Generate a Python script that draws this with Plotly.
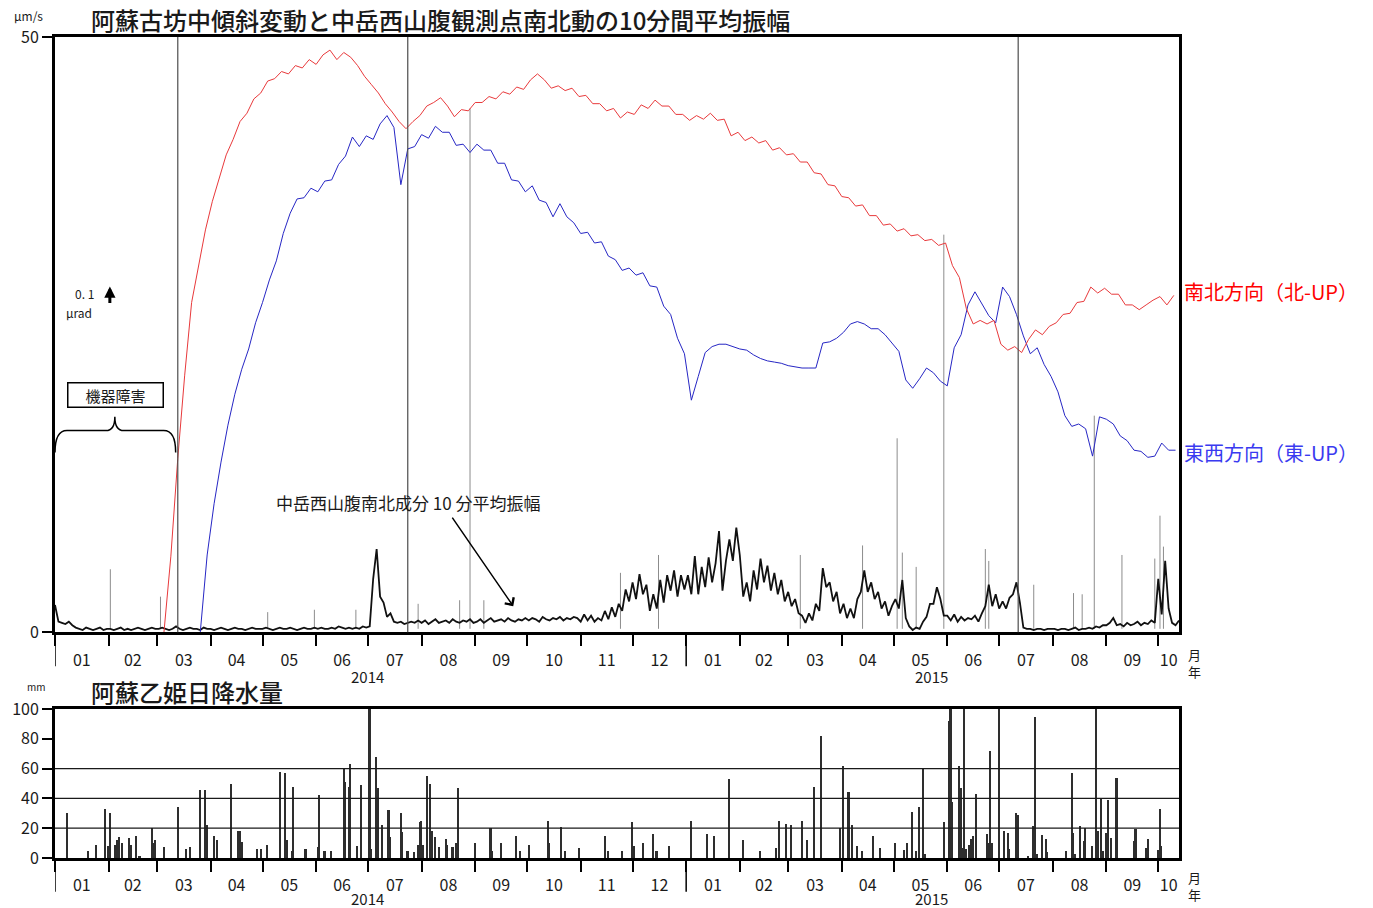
import pandas as pd
import plotly.graph_objects as go

# ---------------------------------------------------------------------------
# Data
# ---------------------------------------------------------------------------
# 10-minute mean amplitude, Nakadake west-flank station, N-S component (µm/s)
# sampled every 2 days from amp_start
amp_start = "2014-01-01"
amp_values = (
    [2.3, 0.9, 0.8, 0.7, 0.9, 0.6, 0.4, 0.3, 0.2, 0.4, 0.3, 0.2, 0.3, 0.4, 0.2, 0.3]        # 2014-01
    + [0.3, 0.2, 0.3, 0.4, 0.2, 0.3, 0.2, 0.3, 0.4, 0.3, 0.2, 0.3, 0.4, 0.3]               # 2014-02
    + [0.3, 0.4, 0.3, 0.2, 0.3, 0.5, 0.3, 0.2, 0.3, 0.4, 0.3, 0.3, 0.2, 0.4, 0.3]          # 2014-03
    + [0.3, 0.2, 0.3, 0.4, 0.3, 0.2, 0.3, 0.4, 0.3, 0.3, 0.2, 0.3, 0.4, 0.3, 0.3]          # 2014-04
    + [0.3, 0.4, 0.3, 0.2, 0.3, 0.4, 0.3, 0.3, 0.4, 0.3, 0.2, 0.3, 0.4, 0.3, 0.3, 0.4]     # 2014-05
    + [0.3, 0.4, 0.3, 0.3, 0.4, 0.3, 0.5, 0.4, 0.3, 0.4, 0.3, 0.4, 0.3, 0.5, 0.4]          # 2014-06
    + [0.5, 4.5, 7.0, 3.0, 2.5, 1.3, 1.6, 0.9, 0.8, 0.9, 0.7, 0.8, 0.9, 0.8, 1.0]          # 2014-07
    + [0.8, 1.0, 0.7, 0.9, 1.1, 0.8, 0.9, 1.0, 0.8, 1.1, 0.9, 0.8, 1.0, 0.9, 1.1, 0.8]     # 2014-08
    + [0.9, 1.1, 0.8, 1.0, 1.2, 0.9, 1.0, 1.1, 0.9, 1.2, 1.0, 0.9, 1.1, 1.0, 1.2]          # 2014-09
    + [1.0, 1.2, 1.1, 0.9, 1.3, 1.1, 1.0, 1.2, 1.1, 1.3, 1.0, 1.2, 1.1, 1.3, 1.2]          # 2014-10
    + [0.9, 1.5, 1.0, 1.4, 0.9, 1.2, 1.0, 1.8, 1.1, 2.1, 1.3, 2.4, 1.8, 3.6, 2.6]          # 2014-11
    + [4.2, 2.8, 4.9, 3.2, 4.0, 1.8, 3.2, 2.0, 4.4, 2.5, 4.8, 3.5, 5.2, 3.0, 4.8, 3.6]     # 2014-12
    + [4.8, 3.2, 6.4, 3.2, 5.5, 3.8, 6.3, 4.2, 5.8, 8.5, 3.5, 6.0, 7.8, 6.0, 8.8]          # 2015-01
    + [6.5, 3.0, 4.2, 2.6, 5.2, 3.6, 6.2, 4.2, 5.6, 3.5, 5.0, 3.2, 4.4, 2.6]               # 2015-02
    + [3.4, 2.2, 2.8, 1.6, 1.4, 0.8, 1.6, 1.0, 2.4, 1.8, 5.4, 3.8, 4.2, 2.6, 3.4, 1.6]     # 2015-03
    + [2.4, 1.2, 2.0, 1.2, 2.8, 3.4, 5.2, 3.4, 4.2, 2.8, 3.4, 2.0, 2.6, 1.4, 2.2]          # 2015-04
    + [2.8, 2.0, 4.4, 1.2, 0.5, 0.2, 0.4, 0.3, 0.9, 1.3, 2.4, 2.4, 3.8, 2.8, 1.4]          # 2015-05
    + [1.4, 1.0, 1.5, 0.9, 1.3, 1.0, 1.2, 1.1, 1.4, 0.9, 1.6, 2.2, 4.0, 2.2, 3.2]          # 2015-06
    + [2.0, 2.6, 2.0, 2.9, 3.2, 4.2, 2.5, 0.4, 0.3, 0.3, 0.2, 0.3, 0.3, 0.2, 0.3, 0.3]     # 2015-07
    + [0.3, 0.2, 0.3, 0.3, 0.2, 0.3, 0.4, 0.2, 0.3, 0.3, 0.4, 0.3, 0.5, 0.4, 0.6]          # 2015-08
    + [0.6, 0.8, 1.2, 0.6, 0.7, 0.5, 0.8, 0.6, 0.7, 0.9, 0.6, 0.8, 0.7, 1.0, 0.8]          # 2015-09
    + [4.5, 1.5, 6.0, 2.0, 0.8, 0.6, 1.0]                                                 # 2015-10
)

# short bursts in the amplitude record (µm/s)
amp_spike_dates = [
    "2014-02-02", "2014-03-03", "2014-05-04", "2014-05-31", "2014-06-24",
    "2014-07-30", "2014-08-23", "2014-08-29", "2014-09-06", "2014-11-24",
    "2014-12-16", "2015-03-08", "2015-04-13", "2015-05-03", "2015-05-06",
    "2015-05-14", "2015-05-30", "2015-06-23", "2015-06-25", "2015-07-21",
    "2015-08-13", "2015-08-18", "2015-08-25", "2015-09-10", "2015-09-29",
    "2015-10-02", "2015-10-04",
]
amp_spike_values = [
    5.3, 3.0, 1.7, 1.9, 1.9,
    2.4, 2.7, 44.0, 2.7, 5.0,
    6.5, 6.5, 7.3, 16.3, 6.7,
    5.5, 33.4, 7.0, 6.0, 4.0,
    3.3, 3.2, 18.2, 6.5, 6.2,
    9.8, 7.2,
]

# Furubochu tilt, plotted offsets (every 4 days)
tilt_step_days = 4
tilt_ns_start = "2014-03-05"   # N-S component (north up)
tilt_ns = [
    0.0, 6.4, 14.6, 21.6, 27.7, 30.9, 33.8, 36.2, 38.2, 40.1,
    41.4, 42.9, 43.6, 44.8, 45.3, 46.3, 46.5, 47.1, 46.9, 47.6,
    47.4, 48.1, 47.7, 48.5, 48.9, 48.1, 48.7, 48.3, 47.6, 46.7,
    46.0, 45.3, 44.4, 43.7, 42.9, 42.3, 42.9, 43.4, 44.2, 44.5,
    44.9, 44.2, 43.3, 43.9, 43.8, 44.5, 44.5, 45.0, 44.8, 45.4,
    45.2, 45.8, 45.6, 46.4, 46.9, 46.4, 45.7, 45.9, 45.5, 45.7,
    45.0, 45.1, 44.4, 44.4, 43.8, 44.0, 43.2, 43.7, 43.5, 44.3,
    44.0, 44.7, 44.2, 44.2, 43.5, 43.5, 43.0, 43.4, 43.1, 43.6,
    43.0, 43.1, 41.7, 42.0, 41.3, 41.6, 41.1, 41.3, 40.5, 40.7,
    40.1, 40.2, 39.5, 39.5, 38.6, 38.5, 37.6, 37.5, 36.6, 36.5,
    35.8, 35.9, 35.0, 35.0, 34.2, 34.3, 33.7, 33.9, 33.3, 33.4,
    32.9, 33.0, 32.5, 32.7, 30.8, 29.8, 27.2, 25.9, 26.2, 25.9,
    26.2, 24.2, 23.7, 24.0, 23.5, 24.6, 25.4, 25.0, 25.7, 26.0,
    26.7, 26.8, 27.7, 27.8, 29.0, 28.5, 28.9, 28.4, 28.4, 27.5,
    27.5, 27.1, 27.5, 27.9, 28.2, 27.5, 28.3,
]
tilt_ew_start = "2014-03-26"   # E-W component (east up)
tilt_ew = [
    0.0, 6.5, 10.8, 14.3, 17.4, 20.0, 22.1, 23.8, 26.0, 27.7,
    29.6, 31.2, 33.5, 35.2, 36.4, 36.5, 37.3, 37.0, 37.9, 38.0,
    39.3, 40.0, 41.6, 40.8, 41.7, 41.4, 42.7, 43.4, 42.4, 37.6,
    40.6, 40.8, 41.8, 41.5, 42.5, 42.0, 42.0, 40.9, 41.0, 40.3,
    41.0, 40.5, 40.5, 39.4, 39.4, 38.0, 37.9, 37.0, 37.5, 36.3,
    36.1, 34.9, 36.0, 34.9, 34.4, 33.5, 33.6, 32.7, 32.8, 31.6,
    31.3, 30.4, 30.6, 30.0, 30.2, 29.1, 29.0, 27.4, 26.7, 24.7,
    23.4, 19.5, 21.5, 23.5, 24.0, 24.2, 24.2, 24.0, 23.8, 23.7,
    23.3, 23.0, 22.8, 22.7, 22.6, 22.4, 22.3, 22.2, 22.2, 22.2,
    24.3, 24.4, 24.7, 25.2, 25.9, 26.1, 25.9, 25.5, 25.5, 25.0,
    24.3, 23.6, 21.2, 20.5, 21.3, 22.2, 21.8, 21.1, 20.7, 23.9,
    25.0, 27.5, 28.6, 27.6, 26.6, 26.0, 29.0, 28.2, 26.7, 24.9,
    23.4, 23.9, 22.5, 21.5, 20.2, 18.2, 17.3, 17.5, 17.1, 14.8,
    18.1, 17.9, 17.5, 16.5, 16.1, 15.3, 15.2, 14.7, 14.8, 15.9,
    15.3, 15.3,
]

# dates marked by vertical lines
event_dates = ["2014-03-13", "2014-07-24", "2015-07-12"]

# Aso Otohime daily precipitation (mm)
rain_dates = [
    "2014-01-08", "2014-01-20", "2014-01-25", "2014-01-30", "2014-02-01", "2014-02-02",
    "2014-02-05", "2014-02-06", "2014-02-07", "2014-02-09", "2014-02-13", "2014-02-14",
    "2014-02-17", "2014-02-19", "2014-02-26", "2014-02-27", "2014-02-28", "2014-03-05",
    "2014-03-13", "2014-03-18", "2014-03-20", "2014-03-26", "2014-03-29", "2014-03-30",
    "2014-04-03", "2014-04-05", "2014-04-13", "2014-04-17", "2014-04-18", "2014-04-19",
    "2014-04-28", "2014-04-30", "2014-05-04", "2014-05-11", "2014-05-14", "2014-05-15",
    "2014-05-18", "2014-05-19", "2014-05-26", "2014-06-02", "2014-06-03", "2014-06-06",
    "2014-06-10", "2014-06-17", "2014-06-18", "2014-06-20", "2014-06-21", "2014-06-25",
    "2014-06-27", "2014-07-02", "2014-07-03", "2014-07-06", "2014-07-07", "2014-07-09",
    "2014-07-13", "2014-07-14", "2014-07-20", "2014-07-21", "2014-07-24", "2014-07-28",
    "2014-07-30", "2014-07-31", "2014-08-01", "2014-08-02", "2014-08-04", "2014-08-06",
    "2014-08-07", "2014-08-09", "2014-08-11", "2014-08-15", "2014-08-16", "2014-08-19",
    "2014-08-21", "2014-08-22", "2014-09-01", "2014-09-10", "2014-09-11", "2014-09-16",
    "2014-09-25", "2014-09-27", "2014-10-02", "2014-10-13", "2014-10-14", "2014-10-21",
    "2014-10-23", "2014-10-31", "2014-11-15", "2014-11-17", "2014-11-25", "2014-12-01",
    "2014-12-02", "2014-12-07", "2014-12-13", "2014-12-15", "2014-12-22",
    "2015-01-04", "2015-01-13", "2015-01-17", "2015-01-26", "2015-02-03", "2015-02-13",
    "2015-02-22", "2015-02-24", "2015-02-28", "2015-03-03", "2015-03-09", "2015-03-12",
    "2015-03-16", "2015-03-20", "2015-03-31", "2015-04-02", "2015-04-05", "2015-04-07",
    "2015-04-10", "2015-04-13", "2015-04-19", "2015-04-23", "2015-05-02", "2015-05-07",
    "2015-05-09", "2015-05-12", "2015-05-14", "2015-05-16", "2015-05-18", "2015-05-19",
    "2015-05-30", "2015-06-02", "2015-06-03", "2015-06-04", "2015-06-08", "2015-06-09",
    "2015-06-10", "2015-06-11", "2015-06-12", "2015-06-14", "2015-06-15", "2015-06-16",
    "2015-06-18", "2015-06-24", "2015-06-25", "2015-06-26", "2015-06-27", "2015-07-01",
    "2015-07-04", "2015-07-06", "2015-07-07", "2015-07-11", "2015-07-12", "2015-07-18",
    "2015-07-21", "2015-07-22", "2015-07-23", "2015-07-26", "2015-07-28", "2015-07-29",
    "2015-08-09", "2015-08-12", "2015-08-13", "2015-08-14", "2015-08-17", "2015-08-19",
    "2015-08-20", "2015-08-24", "2015-08-26", "2015-08-27", "2015-08-29", "2015-08-30",
    "2015-09-01", "2015-09-02", "2015-09-04", "2015-09-07", "2015-09-17", "2015-09-18",
    "2015-09-24", "2015-09-25", "2015-10-01", "2015-10-02", "2015-10-03",
]
rain_mm = [
    30, 5, 8.5, 33, 8, 30,
    9, 12, 14, 10, 13.5, 9,
    14.5, 1.5, 20, 10, 12, 7.5,
    34, 6, 7.5, 45.5, 46, 22,
    14.5, 12, 50, 18.5, 18, 11,
    6, 6, 8.5, 58, 57, 12,
    5, 47.5, 6, 7.5, 42, 5,
    5, 60, 51, 48, 63, 8,
    49, 125, 6, 68, 47, 22,
    32, 14, 30, 17.5, 5, 4,
    8.5, 24, 25, 8.5, 55, 50,
    18, 14, 7.5, 13, 9, 7.5,
    10, 47, 10, 20, 5, 10,
    15, 5, 9, 25, 10, 21,
    5, 7, 15, 5, 5, 24,
    8, 10, 16, 5, 8,
    25, 16, 15, 53, 12, 5,
    7, 25, 23, 22, 25, 12,
    48, 82, 20, 62, 44, 22,
    8, 5, 15, 7, 10, 5.5,
    10, 31, 4.5, 34.5, 59.5, 2.7,
    24, 92, 130, 37.5, 62, 47,
    7, 120, 6, 9, 12.7, 15,
    43, 16, 10, 72, 10, 140,
    18, 17, 6, 30.5, 28.7, 1.5,
    21.5, 94.6, 2.7, 15.6, 12.7, 3.8,
    4.9, 56.8, 17, 2.7, 21.6, 11.6,
    20.5, 7.8, 115, 18, 39.4, 4.9,
    17, 39, 13.8, 53.5, 11.6, 19.4,
    7.1, 12.7, 5.6, 32.7, 7.8,
]

x_start, x_end = "2014-01-01", "2015-10-13"
year_labels = ["2014", "2015"]
year_label_dates = ["2014-07-01", "2015-05-23"]
year_start_dates = ["2014-01-01", "2015-01-01"]

# ---------------------------------------------------------------------------
# Layout geometry (pixels in the 1373 x 908 page)
# ---------------------------------------------------------------------------
W, H = 1373, 908
X0, X1 = 52, 1179          # left / right plot edges
Y_TOP, Y_BOT = 37, 863     # top of upper panel / bottom of lower panel
TOP_PANEL_BOTTOM = 636
RAIN_PANEL_TOP = 713

FONT = "Noto Sans CJK JP"


def px(x):
    return (x - X0) / (X1 - X0)


def py(y):
    return (Y_BOT - y) / (Y_BOT - Y_TOP)


def pt(x, y):
    return f"{px(x):.5f},{py(y):.5f}"


# ---------------------------------------------------------------------------
# Series
# ---------------------------------------------------------------------------
amp_dates = pd.date_range(amp_start, periods=len(amp_values), freq="2D")
spike_dates = pd.to_datetime(amp_spike_dates)
spike_x, spike_y = [], []
for d, v in zip(spike_dates, amp_spike_values):
    spike_x += [d, d, None]
    spike_y += [0.3, v, None]

ns_dates = pd.date_range(tilt_ns_start, periods=len(tilt_ns), freq=f"{tilt_step_days}D")
ew_dates = pd.date_range(tilt_ew_start, periods=len(tilt_ew), freq=f"{tilt_step_days}D")

fig = go.Figure()

fig.add_trace(go.Scatter(
    x=spike_x, y=spike_y, mode="lines", connectgaps=False,
    line=dict(color="#8c8c8c", width=1), xaxis="x", yaxis="y", showlegend=False,
))
fig.add_trace(go.Scatter(
    x=amp_dates, y=amp_values, mode="lines",
    line=dict(color="#111111", width=1.8), xaxis="x", yaxis="y", showlegend=False,
))
fig.add_trace(go.Scatter(
    x=ew_dates, y=tilt_ew, mode="lines",
    line=dict(color="#2626c4", width=1), xaxis="x", yaxis="y", showlegend=False,
))
fig.add_trace(go.Scatter(
    x=ns_dates, y=tilt_ns, mode="lines",
    line=dict(color="#e8393b", width=1), xaxis="x", yaxis="y", showlegend=False,
))
fig.add_trace(go.Bar(
    x=pd.to_datetime(rain_dates), y=rain_mm, width=86400000 * 0.9,
    marker=dict(color="#2e2e2e", line=dict(width=0)),
    xaxis="x2", yaxis="y2", showlegend=False,
))

# ---------------------------------------------------------------------------
# Axes: tick marks at month starts, labels centred in each month
# ---------------------------------------------------------------------------
month_starts = pd.date_range(x_start, x_end, freq="MS")
range_end = pd.Timestamp(x_end)
month_mids, month_text = [], []
for i, s in enumerate(month_starts):
    nxt = month_starts[i + 1] if i + 1 < len(month_starts) else range_end
    nxt = min(nxt, range_end)
    month_mids.append(s + (nxt - s) / 2)
    month_text.append(f"{s.month:02d}")

tick_font = dict(family=FONT, size=16, color="#1a1a1a")
month_axis = dict(
    type="date", range=[x_start, x_end], tickmode="array", tickvals=month_mids,
    ticktext=month_text, ticks="", ticklabelstandoff=11,
    minor=dict(tickmode="array", tickvals=list(month_starts), ticks="outside",
               ticklen=11, tickwidth=1.5, tickcolor="black", showgrid=False),
    showline=True, linewidth=3, linecolor="black", mirror=True, showgrid=False,
    zeroline=False, tickfont=tick_font, fixedrange=True,
)

shapes = []
# vertical event markers in the upper panel
for d in event_dates:
    shapes.append(dict(type="line", xref="x", yref="y domain", x0=d, x1=d, y0=0, y1=1,
                       line=dict(color="#4d4d4d", width=1.2)))
# long separators at each year start below both month axes
for d in year_start_dates:
    shapes.append(dict(type="line", xref="x", yref="y domain", x0=d, x1=d, y0=0,
                       y1=-(670 - TOP_PANEL_BOTTOM) / (TOP_PANEL_BOTTOM - Y_TOP),
                       line=dict(color="black", width=1.5)))
    shapes.append(dict(type="line", xref="x2", yref="y2 domain", x0=d, x1=d, y0=0,
                       y1=-(897 - Y_BOT) / (Y_BOT - RAIN_PANEL_TOP),
                       line=dict(color="black", width=1.5)))
# precipitation reference lines
for g in [20, 40, 60]:
    shapes.append(dict(type="line", xref="x2 domain", yref="y2", x0=0, x1=1, y0=g, y1=g,
                       line=dict(color="#1a1a1a", width=1.2)))
# brace spanning the instrument-failure interval
brace = ("M " + pt(52, 455) + " Q " + pt(52, 433) + " " + pt(64, 433)
         + " L " + pt(103, 433) + " Q " + pt(112, 433) + " " + pt(112, 419)
         + " Q " + pt(112, 433) + " " + pt(121, 433)
         + " L " + pt(161, 433) + " Q " + pt(173, 433) + " " + pt(173, 455))
shapes.append(dict(type="path", xref="paper", yref="paper", path=brace,
                   line=dict(color="black", width=1.5)))

# ---------------------------------------------------------------------------
# Text
# ---------------------------------------------------------------------------
def label(text, x, y, size=16, color="#1a1a1a", xanchor="center", weight="normal", **kw):
    return dict(text=text, x=px(x), y=py(y), xref="paper", yref="paper",
                showarrow=False, xanchor=xanchor, yanchor="middle",
                font=dict(family=FONT, size=size, color=color, weight=weight), **kw)


annotations = [
    label("阿蘇古坊中傾斜変動と中岳西山腹観測点南北動の10分間平均振幅", 86, 19, size=24,
          xanchor="left", weight=500),
    label("μm/s", 25, 15, size=12),
    label("阿蘇乙姫日降水量", 86, 695, size=24, xanchor="left", weight=500),
    label("mm", 33, 690, size=10),
    label("月", 1195, 658, size=13),
    label("年", 1195, 675, size=13),
    label("月", 1195, 883, size=13),
    label("年", 1195, 900, size=13),
    label("南北方向（北-UP）", 1182, 293, size=20, color="#ff0000", xanchor="left"),
    label("東西方向（東-UP）", 1182, 455, size=20, color="#3a3af0", xanchor="left"),
    label("0. 1", 82, 295, size=12),
    label("μrad", 76, 314, size=12),
    label("中岳西山腹南北成分 10 分平均振幅", 406, 505, size=17),
    dict(text="機器障害", x=px(112.5), y=py(397), xref="paper", yref="paper",
         showarrow=False, xanchor="center", yanchor="middle", width=92, height=21,
         bordercolor="black", borderwidth=1.5, borderpad=1, bgcolor="white",
         font=dict(family=FONT, size=15, color="#1a1a1a")),
    # 0.1 µrad scale arrow
    dict(text="", x=px(107), y=py(288), xref="paper", yref="paper", showarrow=True,
         ax=0, ay=18, arrowhead=2, arrowsize=0.75, arrowwidth=3, arrowcolor="black"),
    # pointer to the amplitude trace
    dict(text="", x="2014-09-23", y=2.2, xref="x", yref="y", showarrow=True,
         ax=-62, ay=-90, arrowhead=4, arrowsize=1.4, arrowwidth=1.5, arrowcolor="black"),
]
for yl, yd in zip(year_labels, year_label_dates):
    for ref, ypix in (("x", 680), ("x2", 904)):
        annotations.append(dict(text=yl, x=yd, y=py(ypix), xref=ref, yref="paper",
                                showarrow=False, xanchor="center", yanchor="middle",
                                font=dict(family=FONT, size=15, color="#1a1a1a")))

fig.update_layout(
    width=W, height=H,
    margin=dict(l=X0, r=W - X1, t=Y_TOP, b=H - Y_BOT),
    paper_bgcolor="white", plot_bgcolor="white",
    font=dict(family=FONT, size=16, color="#1a1a1a"),
    xaxis=dict(month_axis, domain=[0, 1], anchor="y"),
    yaxis=dict(domain=[py(TOP_PANEL_BOTTOM), 1], anchor="x", range=[0, 50],
               tickvals=[0, 50], ticks="outside", ticklen=10, tickwidth=1.5,
               tickcolor="black", showline=True, linewidth=3, linecolor="black",
               mirror=True, showgrid=False, zeroline=False, tickfont=tick_font,
               fixedrange=True),
    xaxis2=dict(month_axis, domain=[0, 1], anchor="y2"),
    yaxis2=dict(domain=[0, py(RAIN_PANEL_TOP)], anchor="x2", range=[0, 100],
                tickvals=[0, 20, 40, 60, 80, 100], ticks="outside", ticklen=10,
                tickwidth=1.5, tickcolor="black", showline=True, linewidth=3,
                linecolor="black", mirror=True, showgrid=False, zeroline=False,
                tickfont=tick_font, fixedrange=True),
    shapes=shapes,
    annotations=annotations,
    bargap=0,
    showlegend=False,
)

fig.write_html("out.html")
